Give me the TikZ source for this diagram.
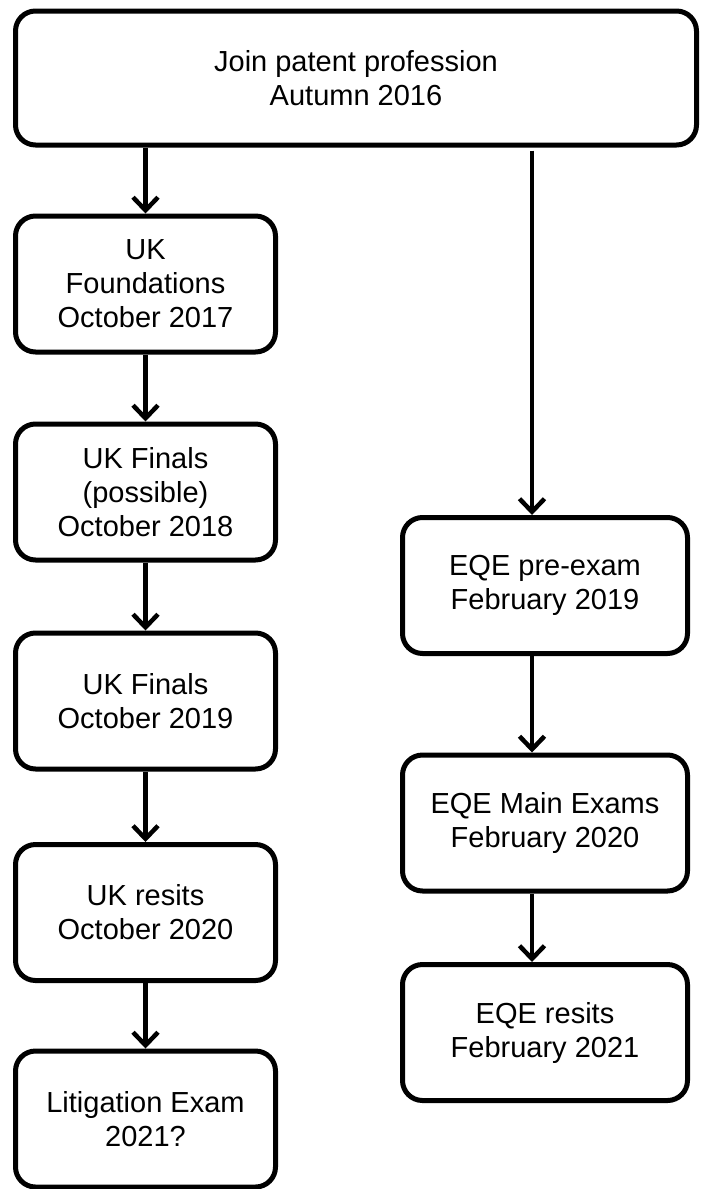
\documentclass[tikz,border=0pt]{standalone}
\usepackage{fontspec}
\setmainfont{Liberation Sans}
\usetikzlibrary{
  arrows.meta,
  chains,
  positioning,
  scopes
}

\begin{document}
\begin{tikzpicture}[x=1pt,y=-1pt,
      stage/.style={
         rectangle,
         rounded corners=20pt,
         line width=5pt,
         draw=black,
         minimum width=260pt,
         minimum height=136pt,
         align=center,
         font=\fontsize{29}{34}\selectfont,
      },
      eqe/.style={stage,minimum width=285pt},
      start/.style={stage,minimum width=681pt,minimum height=134pt},
      >={Straight Barb[length=13pt,width=25pt]},line width=4.5pt,
      tip/.style={->,shorten >=0pt},
    ]
    \useasboundingbox (0,0) rectangle (701,1189);
    % starting point
    \node (join) [start] at (356,78) {Join patent profession\\Autumn 2016};
    % UK route
    \node (found) [stage] at (145.5,284) {UK\\Foundations\\October 2017};
    \node (poss) [stage] at (145.5,492) {UK Finals\\(possible)\\October 2018};
    \node (finals) [stage] at (145.5,701) {UK Finals\\October 2019};
    \node (ukresit) [stage] at (145.5,912.5) {UK resits\\October 2020};
    \node (litig) [stage] at (145.5,1119) {Litigation Exam\\2021?};
    % EQE route
    \node (pre) [eqe] at (545,585.5) {EQE pre-exam\\February 2019};
    \node (main) [eqe] at (545,823) {EQE Main Exams\\February 2020};
    \node (eqeresit) [eqe] at (545,1032.5) {EQE resits\\February 2021};
    \coordinate (eqeline) at ([xshift=-13pt]pre.north);

  \draw[tip] (join.south -| found.north) -- (found.north);
  { [start chain]
       \chainin (found);
       \chainin (poss)    [join=by tip];
       \chainin (finals)  [join=by tip];
       \chainin (ukresit) [join=by tip];
       \chainin (litig)   [join=by tip];
  }
  \draw[tip] ([yshift=-3pt]join.south -| eqeline) -- (eqeline);
  \draw[tip] (pre.south -| eqeline) -- (main.north -| eqeline);
  \draw[tip] (main.south -| eqeline) -- (eqeresit.north -| eqeline);
\end{tikzpicture}
\end{document}
